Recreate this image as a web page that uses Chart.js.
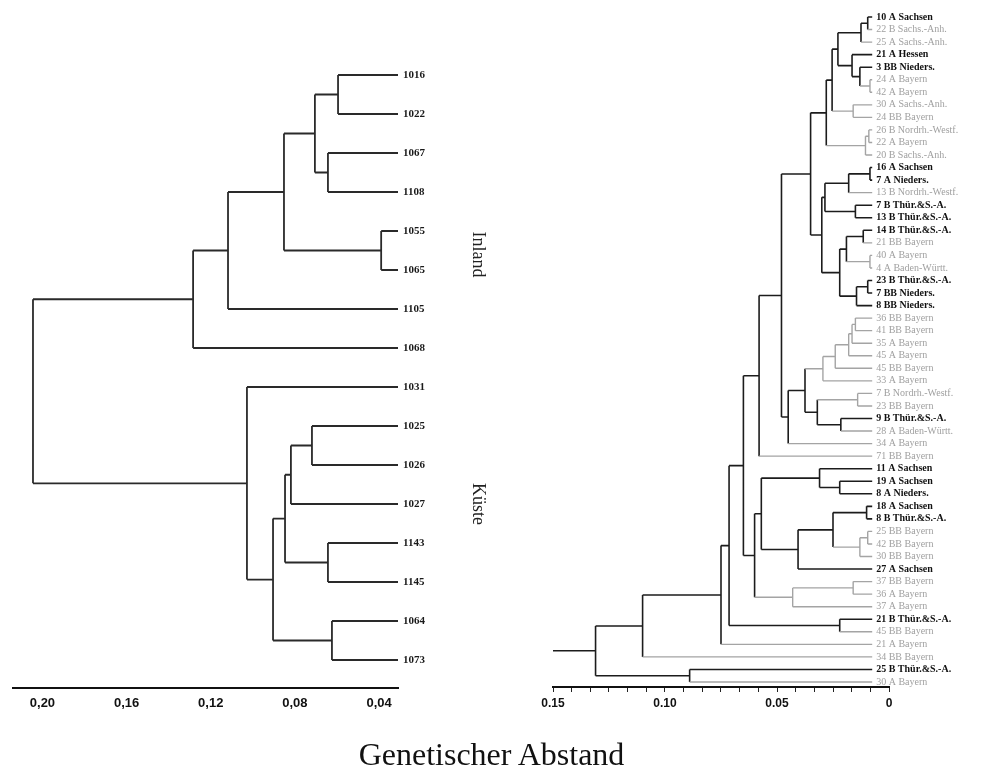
<!DOCTYPE html>
<html>
<head>
<meta charset="utf-8">
<script src="https://cdn.jsdelivr.net/npm/chart.js@4.4.1/dist/chart.umd.min.js"></script>
<style>
  body { margin: 0; background: #fff; width: 983px; height: 784px; position: relative; overflow: hidden; }
  #left { position: absolute; left: 0; top: 0; }
  #right { position: absolute; left: 500px; top: 0; }
  #title { position: absolute; left: 0; width: 983px; top: 736px; text-align: center;
           font-family: "Liberation Serif", serif; font-size: 32px; color: #111; }
</style>
</head>
<body>
<canvas id="left" width="500" height="784"></canvas>
<canvas id="right" width="483" height="784"></canvas>
<div id="title">Genetischer Abstand</div>
<script>
// ---- left tree: Inland / Küste ----
const leftLeaves = ['1016', '1022', '1067', '1108', '1055', '1065', '1105', '1068',
                    '1031', '1025', '1026', '1027', '1143', '1145', '1064', '1073'];
const leftTip = 0.031;
// merges: [a, b, distance]; a number is a leaf index, 'mK' is the K-th merge
const leftMerges = [
    [0, 1, 0.0595],
    [2, 3, 0.0643],
    ['m0', 'm1', 0.0705],
    [4, 5, 0.039],
    ['m2', 'm3', 0.0852],
    ['m4', 6, 0.1118],
    ['m5', 7, 0.1284],
    [9, 10, 0.0719],
    ['m7', 11, 0.0819],
    [12, 13, 0.0643],
    ['m8', 'm9', 0.0847],
    [14, 15, 0.0624],
    ['m10', 'm11', 0.0904],
    [8, 'm12', 0.1028],
    ['m6', 'm13', 0.2045]
];
const leftTicks = [0.20, 0.16, 0.12, 0.08, 0.04];
const leftGroups = ['Inland', 'Küste'];
const leftGroupAt = [4.6, 11];

// ---- right tree ----
const rightLeaves = [
    '10 A Sachsen', '22 B Sachs.-Anh.', '25 A Sachs.-Anh.', '21 A Hessen', '3 BB Nieders.',
    '24 A Bayern', '42 A Bayern', '30 A Sachs.-Anh.', '24 BB Bayern', '26 B Nordrh.-Westf.',
    '22 A Bayern', '20 B Sachs.-Anh.', '16 A Sachsen', '7 A Nieders.', '13 B Nordrh.-Westf.',
    '7 B Thür.&S.-A.', '13 B Thür.&S.-A.', '14 B Thür.&S.-A.', '21 BB Bayern', '40 A Bayern',
    '4 A Baden-Württ.', '23 B Thür.&S.-A.', '7 BB Nieders.', '8 BB Nieders.', '36 BB Bayern',
    '41 BB Bayern', '35 A Bayern', '45 A Bayern', '45 BB Bayern', '33 A Bayern',
    '7 B Nordrh.-Westf.', '23 BB Bayern', '9 B Thür.&S.-A.', '28 A Baden-Württ.', '34 A Bayern',
    '71 BB Bayern', '11 A Sachsen', '19 A Sachsen', '8 A Nieders.', '18 A Sachsen',
    '8 B Thür.&S.-A.', '25 BB Bayern', '42 BB Bayern', '30 BB Bayern', '27 A Sachsen',
    '37 BB Bayern', '36 A Bayern', '37 A Bayern', '21 B Thür.&S.-A.', '45 BB Bayern',
    '21 A Bayern', '34 BB Bayern', '25 B Thür.&S.-A.', '30 A Bayern'
];
// 1 = printed black, 0 = printed grey
const rightBold = [1,0,0,1,1,0,0,0,0,0, 0,0,1,1,0,1,1,1,0,0, 0,1,1,1,0,0,0,0,0,0,
                   0,0,1,0,0,0,1,1,1,1, 1,0,0,0,1,0,0,0,1,0, 0,0,1,0];
const rightTip = 0.0075;
const rightMerges = [
    [0, 1, 0.0095], ['m0', 2, 0.0125], [5, 6, 0.0085], [4, 'm2', 0.013],
    [3, 'm3', 0.0165], ['m1', 'm4', 0.0228], [7, 8, 0.016], ['m5', 'm6', 0.0254],
    [9, 10, 0.009], ['m8', 11, 0.0105], ['m7', 'm9', 0.028], [12, 13, 0.0085],
    ['m11', 14, 0.018], [15, 16, 0.015], ['m12', 'm13', 0.0286], [17, 18, 0.0115],
    [19, 20, 0.0085], ['m15', 'm16', 0.019], [21, 22, 0.0095], ['m18', 23, 0.0145],
    ['m17', 'm19', 0.022], ['m14', 'm20', 0.030], ['m10', 'm21', 0.035], [24, 25, 0.015],
    ['m23', 26, 0.0165], ['m24', 27, 0.018], ['m25', 28, 0.024], ['m26', 29, 0.0295],
    [30, 31, 0.014], [32, 33, 0.0215], ['m28', 'm29', 0.032], ['m27', 'm30', 0.0375],
    ['m31', 34, 0.045], ['m22', 'm32', 0.048], ['m33', 35, 0.058], [37, 38, 0.022],
    [36, 'm35', 0.031], [39, 40, 0.010], [41, 42, 0.0095], ['m38', 43, 0.013],
    ['m37', 'm39', 0.025], ['m40', 44, 0.0406], ['m36', 'm41', 0.057], [45, 46, 0.016],
    ['m43', 47, 0.043], ['m42', 'm44', 0.060], ['m34', 'm45', 0.065], [48, 49, 0.022],
    ['m46', 'm47', 0.0714], ['m48', 50, 0.075], ['m49', 51, 0.110], [52, 53, 0.089],
    ['m50', 'm51', 0.131]
];
const rightRootFrom = 0.15;
const rightTicks = [0.15, 0.10, 0.05, 0];
const rightTickText = ['0.15', '0.10', '0.05', '0'];
const rightMinorPerMajor = 6;

// turn the merge list into line pieces (dark / light), separated by null points
function buildTree(merges, tip, isDark, rootFrom) {
    const nodes = {};
    const dark = [], light = [];
    const get = id => typeof id === 'number' ? { h: tip, y: id, dark: isDark(id) } : nodes[id];
    const seg = (list, x1, y1, x2, y2) => list.push({ x: x1, y: y1 }, { x: x2, y: y2 }, { x: null, y: null });
    let last;
    merges.forEach(([a, b, h], k) => {
        const A = get(a), B = get(b);
        const d = A.dark || B.dark;
        seg(A.dark ? dark : light, A.h, A.y, h, A.y);
        seg(B.dark ? dark : light, B.h, B.y, h, B.y);
        seg(d ? dark : light, h, A.y, h, B.y);
        last = nodes['m' + k] = { h: h, y: (A.y + B.y) / 2, dark: d };
    });
    if (rootFrom != null) seg(last.dark ? dark : light, last.h, last.y, rootFrom, last.y);
    return { dark, light };
}

const lineSet = (data, color, width) => ({
    data: data, showLine: true, borderColor: color, borderWidth: width,
    pointRadius: 0, spanGaps: false, tension: 0
});

const groupLabels = {
    id: 'groupLabels',
    afterDraw(chart) {
        const ctx = chart.ctx;
        const y = chart.scales.y;
        ctx.save();
        ctx.font = '18px "Liberation Serif"';
        ctx.fillStyle = '#222';
        ctx.textAlign = 'center';
        ctx.textBaseline = 'middle';
        leftGroups.forEach((g, i) => {
            ctx.save();
            ctx.translate(478, y.getPixelForValue(leftGroupAt[i]));
            ctx.rotate(Math.PI / 2);
            ctx.fillText(g, 0, 0);
            ctx.restore();
        });
        ctx.restore();
    }
};

// leaf names of the right tree, written just past the branch tips
const leafLabels = {
    id: 'leafLabels',
    afterDatasetsDraw(chart) {
        const { ctx, scales: { x, y } } = chart;
        const x0 = x.getPixelForValue(rightTip) + 4;
        ctx.save();
        ctx.textBaseline = 'middle';
        ctx.textAlign = 'left';
        rightLeaves.forEach((name, i) => {
            const bold = rightBold[i] === 1;
            ctx.font = (bold ? 'bold ' : '') + '10px "Liberation Serif"';
            ctx.fillStyle = bold ? '#111' : '#a0a0a0';
            ctx.fillText(name, x0, y.getPixelForValue(i));
        });
        ctx.restore();
    }
};

// Left dendrogram
const leftTree = buildTree(leftMerges, leftTip, () => true, null);
new Chart(document.getElementById('left'), {
    type: 'scatter',
    data: { datasets: [lineSet(leftTree.dark, '#2a2a2a', 1.8)] },
    options: {
        responsive: false,
        animation: false,
        layout: { padding: { left: 13, right: 42, top: 16.5, bottom: 66 } },
        plugins: { legend: { display: false }, tooltip: { enabled: false } },
        scales: {
            x: {
                type: 'linear', min: leftTip, max: 0.214, reverse: true,
                afterBuildTicks: s => { s.ticks = leftTicks.map(v => ({ value: v })); },
                afterFit: s => { s.height = 30; },
                grid: { display: false, drawTicks: false },
                border: { display: true, color: '#111', width: 2 },
                ticks: {
                    autoSkip: false, maxRotation: 0, padding: 8, color: '#111',
                    font: { family: 'Liberation Sans', size: 13, weight: 'bold' },
                    callback: v => v.toFixed(2).replace('.', ',')
                }
            },
            y: {
                type: 'linear', position: 'right', min: -1.5, max: 15.718, reverse: true,
                afterBuildTicks: s => { s.ticks = leftLeaves.map((_, i) => ({ value: i })); },
                afterFit: s => { s.width = 60; },
                grid: { display: false, drawTicks: false },
                border: { display: false },
                ticks: {
                    autoSkip: false, padding: 5, color: '#1a1a1a',
                    font: { family: 'Liberation Serif', size: 11, weight: 'bold' },
                    callback: v => leftLeaves[v]
                }
            }
        }
    },
    plugins: [groupLabels]
});

// Right dendrogram
const rightTree = buildTree(rightMerges, rightTip, i => rightBold[i] === 1, rightRootFrom);
new Chart(document.getElementById('right'), {
    type: 'scatter',
    data: {
        datasets: [
            lineSet(rightTree.light, '#a4a4a4', 1.4),
            lineSet(rightTree.dark, '#1c1c1c', 1.6)
        ]
    },
    options: {
        responsive: false,
        animation: false,
        layout: { padding: { left: 53, right: 94, top: 4.45, bottom: 67 } },
        plugins: { legend: { display: false }, tooltip: { enabled: false } },
        scales: {
            x: {
                type: 'linear', min: 0, max: 0.15, reverse: true,
                afterBuildTicks: s => {
                    const t = [];
                    for (let k = 0; k < rightTicks.length - 1; k++) {
                        const step = (rightTicks[k] - rightTicks[k + 1]) / rightMinorPerMajor;
                        for (let j = 0; j < rightMinorPerMajor; j++) t.push({ value: rightTicks[k] - j * step });
                    }
                    t.push({ value: rightTicks[rightTicks.length - 1] });
                    s.ticks = t;
                },
                afterFit: s => { s.height = 30; },
                grid: { display: true, drawOnChartArea: false, drawTicks: true, tickLength: 5, color: '#222' },
                border: { display: true, color: '#111', width: 2 },
                ticks: {
                    autoSkip: false, maxRotation: 0, padding: 4, color: '#111',
                    font: { family: 'Liberation Sans', size: 12, weight: 'bold' },
                    callback: v => {
                        const k = rightTicks.findIndex(t => Math.abs(t - v) < 1e-9);
                        return k < 0 ? '' : rightTickText[k];
                    }
                }
            },
            y: {
                type: 'linear', display: false, min: -1, max: 53.4, reverse: true
            }
        }
    },
    plugins: [leafLabels]
});
</script>
</body>
</html>
